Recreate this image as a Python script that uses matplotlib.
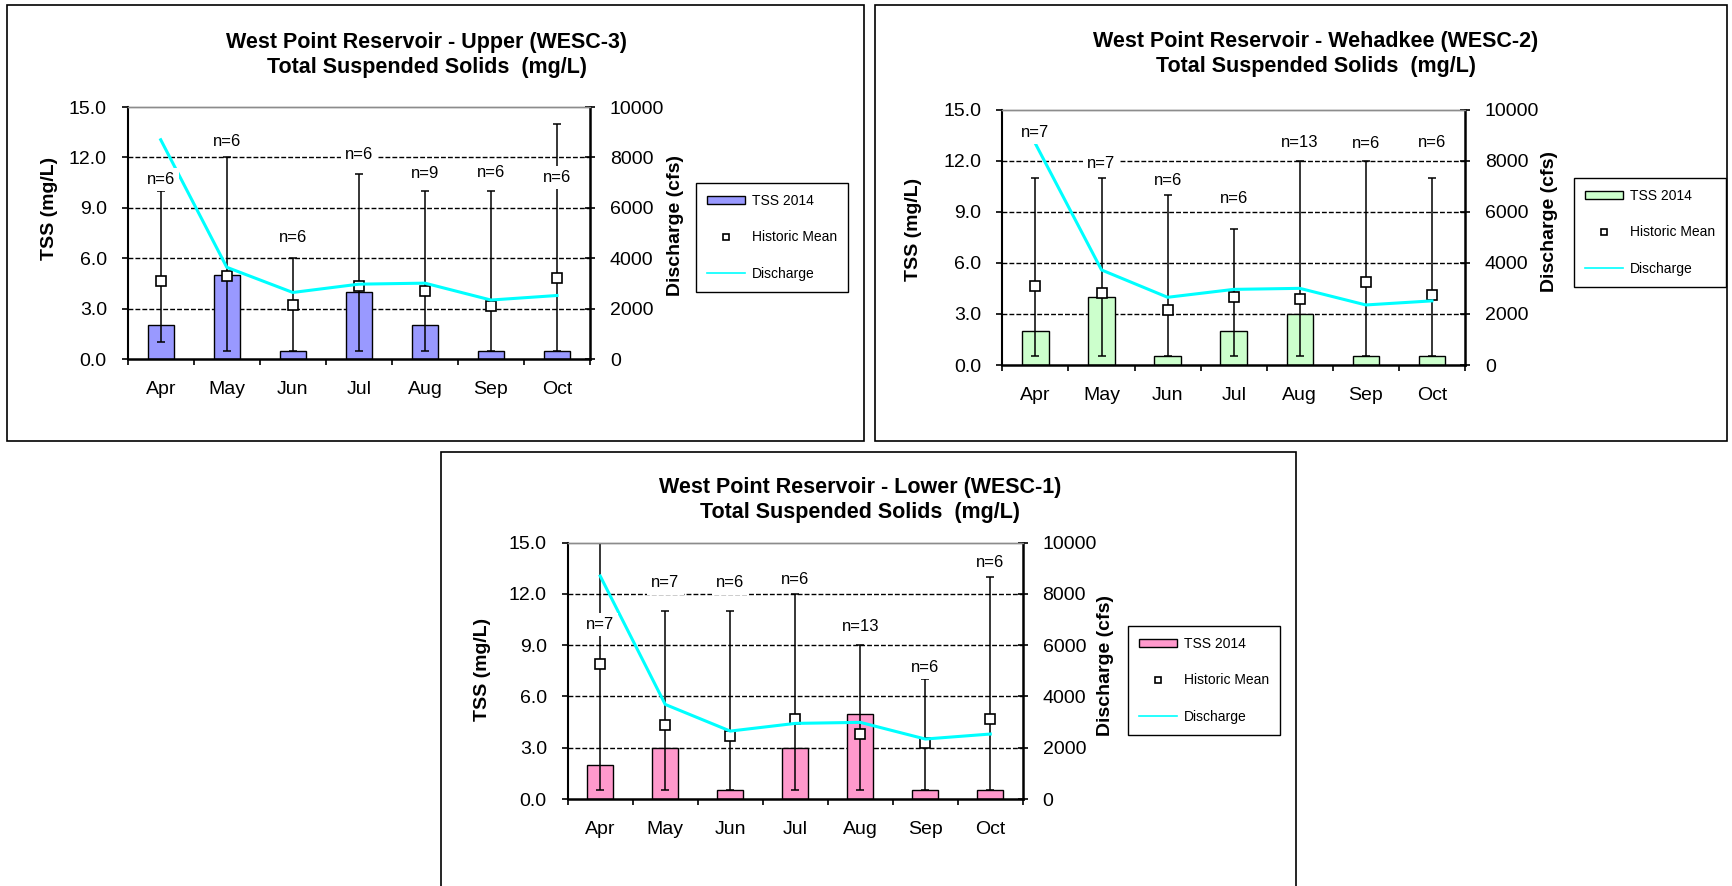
import matplotlib

matplotlib.use("Agg")
import matplotlib.pyplot as plt
from matplotlib.lines import Line2D
from matplotlib.patches import Patch, Rectangle

plt.rcParams["font.family"] = ["Liberation Sans", "DejaVu Sans"]

W, H = 1732, 886

months = ["Apr", "May", "Jun", "Jul", "Aug", "Sep", "Oct"]
tss_ticks = [0, 3, 6, 9, 12, 15]
q_ticks = [0, 2000, 4000, 6000, 8000, 10000]
legend_labels = ["TSS 2014", "Historic Mean", "Discharge"]

# West Point Reservoir - Upper (WESC-3)
upper_tss = [2, 5, 0.5, 4, 2, 0.5, 0.5]
upper_min = [1, 0.5, 0.5, 0.5, 0.5, 0.5, 0.5]
upper_max = [10, 12, 6, 11, 10, 10, 14]
upper_mean = [4.65, 4.95, 3.2, 4.35, 4.05, 3.15, 4.85]
upper_discharge = [8700, 3640, 2640, 2970, 3010, 2340, 2520]
upper_n = [6, 6, 6, 6, 9, 6, 6]
upper_n_y = [10.7, 12.95, 7.25, 12.15, 11.05, 11.1, 10.8]

# West Point Reservoir - Wehadkee (WESC-2)
wehadkee_tss = [2, 4, 0.5, 2, 3, 0.5, 0.5]
wehadkee_min = [0.5, 0.5, 0.5, 0.5, 0.5, 0.5, 0.5]
wehadkee_max = [11, 11, 10, 8, 12, 12, 11]
wehadkee_mean = [4.65, 4.25, 3.25, 4.0, 3.9, 4.9, 4.1]
wehadkee_discharge = [8660, 3720, 2650, 2960, 3000, 2350, 2510]
wehadkee_n = [7, 7, 6, 6, 13, 6, 6]
wehadkee_n_y = [13.65, 11.85, 10.85, 9.8, 13.05, 13.0, 13.05]

# West Point Reservoir - Lower (WESC-1)
lower_tss = [2, 3, 0.5, 3, 5, 0.5, 0.5]
lower_min = [0.5, 0.5, 0.5, 0.5, 0.5, 0.5, 0.5]
lower_max = [16, 11, 11, 12, 9, 7, 13]
lower_mean = [7.9, 4.35, 3.7, 4.7, 3.8, 3.3, 4.7]
lower_discharge = [8700, 3690, 2650, 2950, 2990, 2340, 2535]
lower_n = [7, 7, 6, 6, 13, 6, 6]
lower_n_y = [10.2, 12.65, 12.65, 12.85, 10.1, 7.7, 13.85]


def fig_xy(x, y):
    return x / W, 1 - y / H


def draw_panel(fig, *, frame, plot, title, title_xy, left_label_xy, right_label_xy,
               legend_xy, color, tss, lo, hi, mean, discharge, n, n_y):
    x0, y0, x1, y1 = frame
    fig.add_artist(Rectangle(fig_xy(x0, y1), (x1 - x0) / W, (y1 - y0) / H,
                             transform=fig.transFigure, fill=False,
                             edgecolor="black", lw=1.2))
    left, top, right, bottom = plot
    ax = fig.add_axes([left / W, 1 - bottom / H, (right - left) / W, (bottom - top) / H])
    ax2 = ax.twinx()
    xs = list(range(len(months)))

    for level in tss_ticks[1:-1]:
        ax.axhline(level, color="black", lw=1.0, ls=(0, (3.5, 1.5)), zorder=0.5)
    ax.bar(xs, tss, width=0.4, color=color, edgecolor="black", lw=1.0, zorder=2)
    err = [[t - l for t, l in zip(tss, lo)], [h - t for t, h in zip(tss, hi)]]
    ax.errorbar(xs, tss, yerr=err, fmt="none", ecolor="black", elinewidth=1.1,
                capsize=3, capthick=1.1, zorder=3)
    ax.plot(xs, mean, ls="none", marker="s", ms=7.5, mfc="white", mec="black",
            mew=1.2, zorder=4)
    ax2.plot(xs, discharge, color="#00FFFF", lw=2.2, zorder=3)
    for i, (count, y) in enumerate(zip(n, n_y)):
        ax2.text(i, y, f"n={count}", transform=ax.transData, ha="center", va="center",
                 fontsize=12, zorder=6,
                 bbox=dict(facecolor="white", edgecolor="none", pad=3))

    ax.set_xlim(-0.5, len(months) - 0.5)
    ax.set_ylim(0, 15)
    ax2.set_ylim(0, 10000)
    ax.set_yticks(tss_ticks)
    ax.set_yticklabels([f"{v:.1f}" for v in tss_ticks])
    ax2.set_yticks(q_ticks)
    ax2.set_yticklabels([str(v) for v in q_ticks])
    ax.set_xticks(xs)
    ax.set_xticklabels(months)
    ax.set_xticks([i - 0.5 for i in range(len(months) + 1)], minor=True)
    ax.tick_params(axis="x", which="major", length=0, pad=16, labelsize=14)
    ax.tick_params(axis="x", which="minor", direction="out", length=4.5, width=1.2)
    ax.tick_params(axis="y", direction="out", length=4.5, width=1.2, pad=10.5,
                   labelsize=14)
    ax2.tick_params(axis="y", direction="inout", length=7.5, width=1.2, pad=10.5,
                    labelsize=14)

    for a in (ax, ax2):
        a.spines["top"].set_color("#8c8c8c")
        a.spines["top"].set_linewidth(1.0)
        a.patch.set_visible(False)
    ax.spines["right"].set_visible(False)
    ax.spines["left"].set_linewidth(1.5)
    ax.spines["bottom"].set_linewidth(1.8)
    ax2.spines["left"].set_visible(False)
    ax2.spines["bottom"].set_visible(False)
    ax2.spines["right"].set_linewidth(1.8)

    fig.text(*fig_xy(*title_xy), title, ha="center", va="center", fontsize=15.5,
             fontweight="bold", linespacing=1.2)
    fig.text(*fig_xy(*left_label_xy), "TSS (mg/L)", rotation=90, ha="center",
             va="center", fontsize=14, fontweight="bold")
    fig.text(*fig_xy(*right_label_xy), "Discharge (cfs)", rotation=90, ha="center",
             va="center", fontsize=14, fontweight="bold")

    handles = [
        Patch(facecolor=color, edgecolor="black", lw=1.0),
        Line2D([], [], ls="none", marker="s", ms=5, mfc="white", mec="black", mew=1.2),
        Line2D([], [], color="#00FFFF", lw=1.2),
    ]
    leg = fig.legend(handles, legend_labels, loc="upper left",
                     bbox_to_anchor=fig_xy(*legend_xy), bbox_transform=fig.transFigure,
                     fancybox=False, edgecolor="black", framealpha=1, fontsize=10,
                     handlelength=2.75, handleheight=0.45, handletextpad=0.45,
                     labelspacing=1.6, borderpad=0.8, borderaxespad=0)
    leg.get_frame().set_linewidth(1.0)


fig = plt.figure(figsize=(W / 100, H / 100), dpi=100)

draw_panel(fig, frame=(7, 5, 864, 441), plot=(127.7, 107, 590, 359),
           title="West Point Reservoir - Upper (WESC-3)\nTotal Suspended Solids  (mg/L)",
           title_xy=(427, 55), left_label_xy=(49, 208), right_label_xy=(676, 225),
           legend_xy=(696, 183), color="#9999FF", tss=upper_tss, lo=upper_min,
           hi=upper_max, mean=upper_mean, discharge=upper_discharge, n=upper_n,
           n_y=upper_n_y)

draw_panel(fig, frame=(875, 5, 1727, 441), plot=(1002.4, 109.5, 1465, 365),
           title="West Point Reservoir - Wehadkee (WESC-2)\nTotal Suspended Solids  (mg/L)",
           title_xy=(1316, 54), left_label_xy=(913, 229), right_label_xy=(1550, 221),
           legend_xy=(1574, 178), color="#CCFFCC", tss=wehadkee_tss, lo=wehadkee_min,
           hi=wehadkee_max, mean=wehadkee_mean, discharge=wehadkee_discharge,
           n=wehadkee_n, n_y=wehadkee_n_y)

draw_panel(fig, frame=(441, 452, 1296, 900), plot=(567.7, 542.7, 1022.8, 799),
           title="West Point Reservoir - Lower (WESC-1)\nTotal Suspended Solids  (mg/L)",
           title_xy=(860, 500), left_label_xy=(482, 669), right_label_xy=(1106, 665),
           legend_xy=(1128, 626), color="#FF99CC", tss=lower_tss, lo=lower_min,
           hi=lower_max, mean=lower_mean, discharge=lower_discharge, n=lower_n,
           n_y=lower_n_y)

fig.savefig("out.png", dpi=100)
